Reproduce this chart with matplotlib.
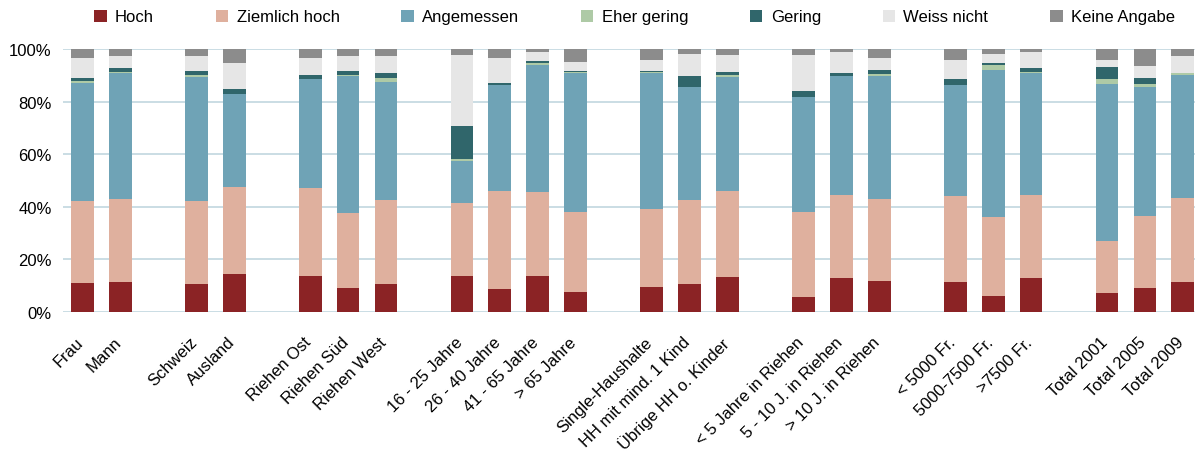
import numpy as np
import matplotlib
matplotlib.use("Agg")
import matplotlib.pyplot as plt
import matplotlib.transforms as mtransforms
from matplotlib.ticker import PercentFormatter

plt.rcParams['font.family'] = ['Liberation Sans', 'DejaVu Sans']

# categories, grouped (an empty slot is left between groups)
groups = [
    ["Frau", "Mann"],
    ["Schweiz", "Ausland"],
    ["Riehen Ost", "Riehen Süd", "Riehen West"],
    ["16 - 25 Jahre", "26 - 40 Jahre", "41 - 65 Jahre", "> 65 Jahre"],
    ["Single-Haushalte", "HH mit mind. 1 Kind", "Übrige HH o. Kinder"],
    ["< 5 Jahre in Riehen", "5 - 10 J. in Riehen", "> 10 J. in Riehen"],
    ["< 5000 Fr.", "5000-7500 Fr.", ">7500 Fr."],
    ["Total 2001", "Total 2005", "Total 2009"],
]

series = ["Hoch", "Ziemlich hoch", "Angemessen", "Eher gering", "Gering",
          "Weiss nicht", "Keine Angabe"]
colors = ["#8b2325", "#dfb09e", "#6fa3b6", "#aecaa6", "#30666b",
          "#e6e6e6", "#8c8c8c"]

# percentages per category, in order of the series above
hoch        = [10.9, 11.3, 10.5, 14.3, 13.6, 9.0, 10.5, 13.6, 8.6, 13.6, 7.5,
               9.4, 10.5, 13.2, 5.6, 12.8, 11.7, 11.3, 6.0, 12.8, 7.1, 9.0, 11.3]
ziemlich    = [31.2, 31.6, 31.6, 33.2, 33.5, 28.6, 32.0, 27.8, 37.3, 32.0, 30.4,
               29.7, 32.0, 32.7, 32.3, 31.6, 31.2, 32.7, 30.0, 31.6, 19.8, 27.4, 32.0]
angemessen  = [45.2, 48.1, 47.2, 35.4, 41.5, 52.1, 44.9, 16.0, 40.4, 48.3, 53.0,
               51.8, 43.0, 43.4, 43.8, 45.3, 46.8, 42.3, 56.0, 46.5, 59.8, 49.1, 46.8]
eher_gering = [0.4, 0.4, 0.8, 0.0, 0.0, 0.4, 1.6, 0.7, 0.0, 0.8, 0.3,
               0.3, 0.0, 0.8, 0.0, 0.0, 0.8, 0.0, 1.9, 0.3, 1.9, 1.2, 0.8]
gering      = [1.3, 1.4, 1.5, 1.9, 1.5, 1.5, 1.9, 12.6, 0.8, 0.7, 0.4,
               0.4, 4.2, 1.1, 2.3, 1.2, 1.5, 2.3, 0.8, 1.6, 4.5, 2.3, 0.0]
weiss_nicht = [7.6, 4.5, 5.7, 9.9, 6.5, 5.7, 6.4, 27.0, 9.5, 3.5, 3.5,
               4.2, 8.4, 6.5, 13.7, 8.0, 4.6, 7.2, 3.4, 6.1, 2.7, 4.5, 6.4]
keine       = [3.4, 2.7, 2.7, 5.3, 3.4, 2.7, 2.7, 2.3, 3.4, 1.1, 4.9,
               4.2, 1.9, 2.3, 2.3, 1.1, 3.4, 4.2, 1.9, 1.1, 4.2, 6.5, 2.7]

values = [hoch, ziemlich, angemessen, eher_gering, gering, weiss_nicht, keine]

# x positions with one empty slot between groups
labels = []
xpos = []
slot = 0
for g in groups:
    for name in g:
        labels.append(name)
        xpos.append(slot)
        slot += 1
    slot += 1
xpos = np.array(xpos)

fig = plt.figure(figsize=(11.95, 4.52), dpi=100)
ax = fig.add_axes([0.0525, 0.308, 0.9475, 0.581])

bottom = np.zeros(len(labels))
for name, vals, col in zip(series, values, colors):
    vals = np.array(vals)
    ax.bar(xpos, vals, 0.6, bottom=bottom, color=col, label=name, zorder=3)
    bottom += vals

ax.set_ylim(0, 100)
ax.set_xlim(-0.52, xpos[-1] + 0.32)
ax.set_yticks(np.arange(0, 101, 20))
ax.yaxis.set_major_formatter(PercentFormatter(decimals=0))
ax.grid(axis='y', color='#c6dae2', linewidth=1.3, zorder=0)
for s in ax.spines.values():
    s.set_visible(False)
ax.tick_params(axis='y', length=0, labelsize=12, pad=8)
ax.tick_params(axis='x', length=0, labelsize=12, pad=16)
ax.set_xticks(xpos)
ax.set_xticklabels(labels, rotation=45, ha='right', rotation_mode='anchor')
# nudge the rotated labels a bit to the left
offset = mtransforms.ScaledTranslation(-5 / 72, 0, fig.dpi_scale_trans)
for lab in ax.get_xticklabels():
    lab.set_transform(lab.get_transform() + offset)

fig.legend(loc='upper center', bbox_to_anchor=(0.531, 1.01), ncol=7,
           frameon=False, fontsize=12, handlelength=0.75, handleheight=0.75,
           handletextpad=0.5, columnspacing=3.7)

fig.savefig("out.png", dpi=100)
